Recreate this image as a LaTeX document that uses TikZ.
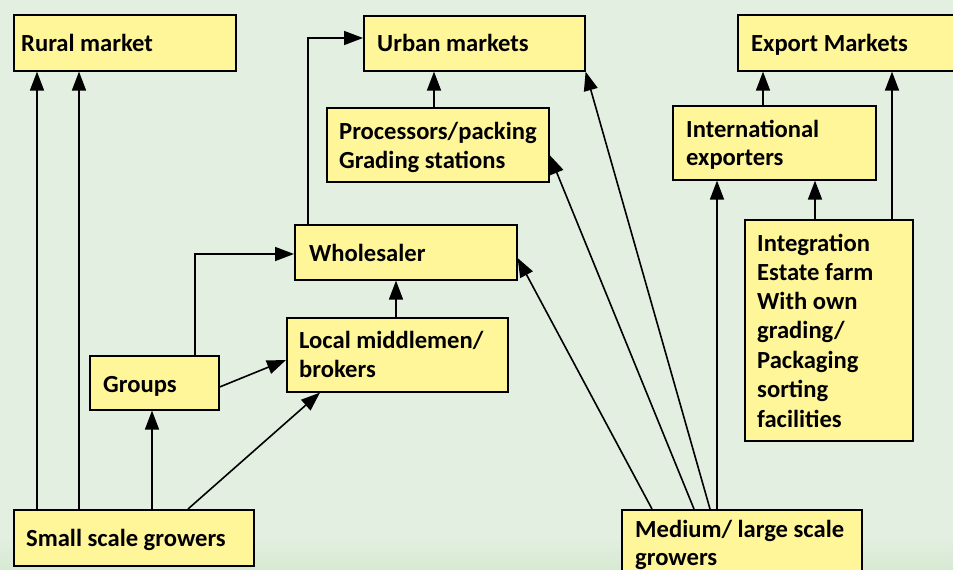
\documentclass[tikz,border=0pt]{standalone}
\usepackage{fontspec}
\setmainfont{Carlito}
\usetikzlibrary{arrows.meta,calc}
\definecolor{bgc}{RGB}{226,239,225}
\definecolor{bgd}{RGB}{214,233,209}
\definecolor{boxc}{RGB}{255,246,153}
\tikzset{
  box/.style={draw=black, line width=1.6pt, fill=boxc, inner sep=0pt, anchor=north west, rectangle},
  txt/.style={anchor=base west, inner sep=0pt, font=\fontsize{24.6}{29.3}\selectfont\bfseries},
  conn/.style={line width=1.6pt, -{Triangle[length=19pt,width=14pt]}}
}
\begin{document}
\begin{tikzpicture}[x=1pt,y=-1pt]
\useasboundingbox (0,0) rectangle (953,570);
\clip (0,0) rectangle (953,570);
\fill[bgc] (0,0) rectangle (953,570);
\shade[top color=bgc, bottom color=bgd] (0,538) rectangle (953,570);

% boxes
\node[box, minimum width=222pt, minimum height=56pt] (rural) at (13,14) {};
\node[box, minimum width=221pt, minimum height=55pt] (urban) at (363,15) {};
\node[box, minimum width=240pt, minimum height=56pt] (export) at (737,14) {};
\node[box, minimum width=203pt, minimum height=74pt] (intl) at (672,105) {};
\node[box, minimum width=222pt, minimum height=74pt] (proc) at (326,107) {};
\node[box, minimum width=222pt, minimum height=55pt] (whole) at (294,224) {};
\node[box, minimum width=221pt, minimum height=74pt] (local) at (286,317) {};
\node[box, minimum width=129pt, minimum height=54pt] (groups) at (89,355) {};
\node[box, minimum width=168pt, minimum height=221pt] (integ) at (744,219) {};
\node[box, minimum width=240pt, minimum height=56pt] (small) at (13,509) {};
\node[box, minimum width=240pt, minimum height=80pt] (med) at (621,509) {};

% texts
\node[txt] (t-rural) at (21,51) {Rural market};
\node[txt] (t-urban) at (377,51) {Urban markets};
\node[txt] (t-export) at (751,51) {Export Markets};
\node[txt] (t-intl1) at (686,137) {International};
\node[txt] (t-intl2) at (686,165) {exporters};
\node[txt] (t-proc1) at (339,139) {Processors/packing};
\node[txt] (t-proc2) at (339,168) {Grading stations};
\node[txt] (t-whole) at (309,261) {Wholesaler};
\node[txt] (t-local1) at (299,348) {Local middlemen/};
\node[txt] (t-local2) at (299,377) {brokers};
\node[txt] (t-groups) at (103,392) {Groups};
\node[txt] (t-integ1) at (757,251) {Integration};
\node[txt] (t-integ2) at (757,280) {Estate farm};
\node[txt] (t-integ3) at (757,309) {With own};
\node[txt] (t-integ4) at (757,338) {grading/};
\node[txt] (t-integ5) at (757,368) {Packaging};
\node[txt] (t-integ6) at (757,397) {sorting};
\node[txt] (t-integ7) at (757,427) {facilities};
\node[txt] (t-small) at (26,546) {Small scale growers};
\node[txt] (t-med1) at (635,537) {Medium/ large scale};
\node[txt] (t-med2) at (635,565) {growers};

% connectors
\draw[conn] ([xshift=24pt]small.north west) -- ([xshift=24pt]rural.south west);
\draw[conn] ([xshift=66pt]small.north west) -- ([xshift=66pt]rural.south west);
\draw[conn] ([xshift=139pt]small.north west) -- ([xshift=63pt]groups.south west);
\draw[conn] ([xshift=175pt]small.north west) -- ([xshift=34pt]local.south west);
\draw[conn] ([yshift=-32pt]groups.north east) -- ([yshift=-43pt]local.north west);
\draw[conn] ([xshift=106pt]groups.north west) |- ([yshift=-30pt]whole.north west);
\draw[conn] ([xshift=110pt]local.north west) -- ([xshift=102pt]whole.south west);
\draw[conn] ([xshift=14pt]whole.north west) |- ([yshift=-23pt]urban.north west);
\draw[conn] ([xshift=108pt]proc.north west) -- ([xshift=71pt]urban.south west);
\draw[conn] ([xshift=31pt]med.north west) -- ([yshift=-34pt]whole.north east);
\draw[conn] ([xshift=73pt]med.north west) -- ([yshift=-48pt]proc.north east);
\draw[conn] ([xshift=89pt]med.north west) -- (urban.south east);
\draw[conn] ([xshift=96pt]med.north west) -- ([xshift=45pt]intl.south west);
\draw[conn] ([xshift=71pt]integ.north west) -- ([xshift=143pt]intl.south west);
\draw[conn] ([xshift=148pt]integ.north west) -- ([xshift=155pt]export.south west);
\draw[conn] ([xshift=91pt]intl.north west) -- ([xshift=26pt]export.south west);
\end{tikzpicture}
\end{document}
